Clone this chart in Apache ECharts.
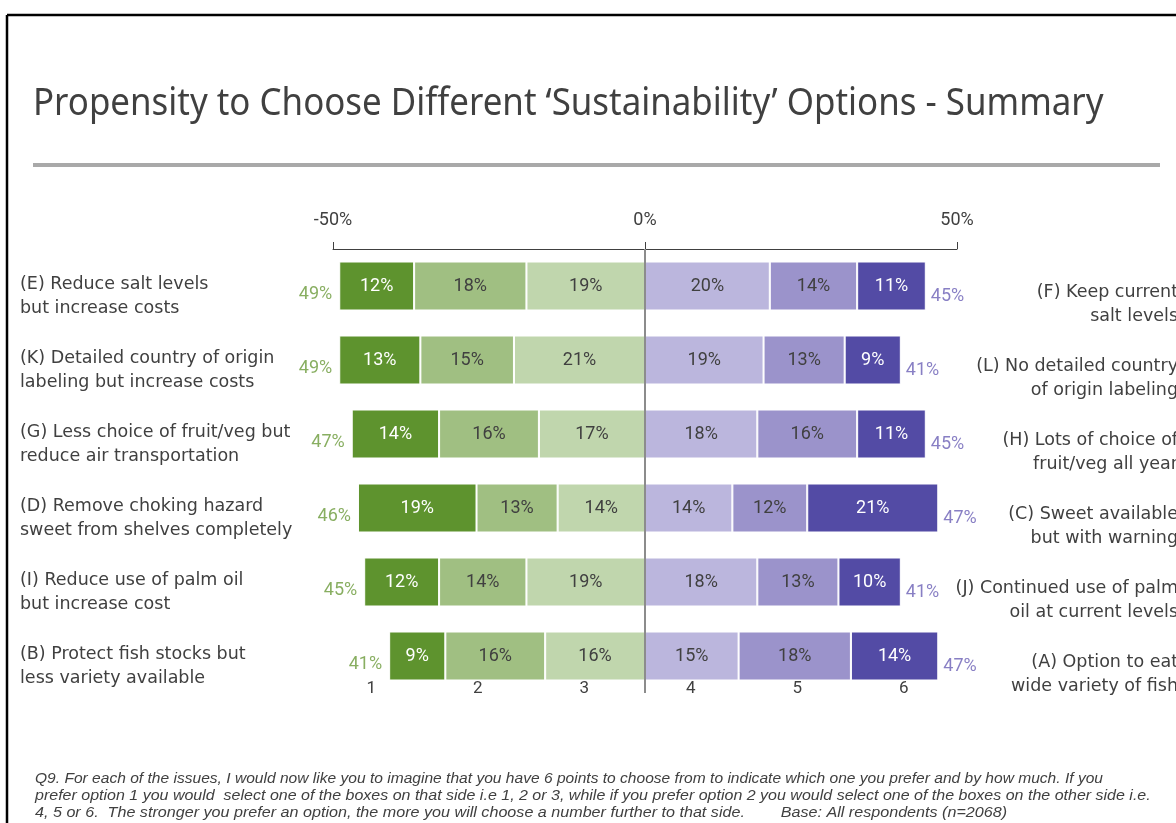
<!DOCTYPE html>
<html>
<head>
<meta charset="utf-8">
<script src="https://cdn.jsdelivr.net/npm/echarts@6/dist/echarts.min.js"></script>
<style>
  html, body { margin: 0; padding: 0; background: #ffffff; }
  #chart { width: 1176px; height: 823px; }
</style>
</head>
<body>
<div id="chart"></div>
<script>
// Statement pairs: option 1 on the left, option 2 on the right
const leftLabels = [
  '(E) Reduce salt levels\nbut increase costs',
  '(K) Detailed country of origin\nlabeling but increase costs',
  '(G) Less choice of fruit/veg but\nreduce air transportation',
  '(D) Remove choking hazard\nsweet from shelves completely',
  '(I) Reduce use of palm oil\nbut increase cost',
  '(B) Protect fish stocks but\nless variety available'
];
const rightLabels = [
  '(F) Keep current\nsalt levels',
  '(L) No detailed country\nof origin labeling',
  '(H) Lots of choice of\nfruit/veg all year',
  '(C) Sweet available\nbut with warning',
  '(J) Continued use of palm\noil at current levels',
  '(A) Option to eat\nwide variety of fish'
];

// Share of respondents (%) choosing each point of the 6-point scale
const point1 = [12, 13, 14, 19, 12, 9];
const point2 = [18, 15, 16, 13, 14, 16];
const point3 = [19, 21, 17, 14, 19, 16];
const point4 = [20, 19, 18, 14, 18, 15];
const point5 = [14, 13, 16, 12, 13, 18];
const point6 = [11, 9, 11, 21, 10, 14];

const scalePoints = ['1', '2', '3', '4', '5', '6'];
const axisMin = -50, axisMax = 50, axisStep = 50;

const footnoteLines = [
  'Q9. For each of the issues, I would now like you to imagine that you have 6 points to choose from to indicate which one you prefer and by how much. If you',
  'prefer option 1 you would  select one of the boxes on that side i.e 1, 2 or 3, while if you prefer option 2 you would select one of the boxes on the other side i.e.',
  '4, 5 or 6.  The stronger you prefer an option, the more you will choose a number further to that side.        Base: All respondents (n=2068)'
];

const leftTotals = point1.map((v, i) => v + point2[i] + point3[i]);
const rightTotals = point4.map((v, i) => v + point5[i] + point6[i]);

const TEXT = '#404040';
const NUM_FONT = 'Roboto';
const LABEL_FONT = 'DejaVu Sans';

function segment(name, values, color, textColor, negative) {
  return {
    name: name,
    type: 'bar',
    stack: 'scale',
    barWidth: 49,
    data: values.map(v => negative ? -v : v),
    itemStyle: { color: color, borderColor: '#ffffff', borderWidth: 1 },
    label: {
      show: true,
      position: 'inside',
      formatter: p => Math.abs(p.value) + '%',
      color: textColor,
      fontFamily: NUM_FONT,
      fontSize: 18
    },
    emphasis: { disabled: true },
    animation: false
  };
}

const series = [
  // left side stacks outward from zero: point 3, then 2, then 1
  segment('3', point3, '#c0d6ad', TEXT, true),
  segment('2', point2, '#a0bf82', TEXT, true),
  segment('1', point1, '#5e932e', '#ffffff', true),
  segment('4', point4, '#bbb6dd', TEXT, false),
  segment('5', point5, '#9b93cb', TEXT, false),
  segment('6', point6, '#534ba5', '#ffffff', false),
  {
    name: 'left total',
    type: 'scatter',
    symbolSize: 0,
    data: leftTotals.map((t, i) => [-t, i]),
    label: {
      show: true,
      position: 'left',
      distance: 7,
      offset: [0, 8],
      formatter: p => (-p.value[0]) + '%',
      color: '#6a9a3a',
      fontFamily: NUM_FONT,
      fontSize: 18
    },
    silent: true,
    animation: false
  },
  {
    name: 'right total',
    type: 'scatter',
    symbolSize: 0,
    data: rightTotals.map((t, i) => [t, i]),
    label: {
      show: true,
      position: 'right',
      distance: 5,
      offset: [0, 10],
      formatter: p => p.value[0] + '%',
      color: '#6a5fb5',
      fontFamily: NUM_FONT,
      fontSize: 18
    },
    silent: true,
    animation: false,
    markLine: {
      silent: true,
      symbol: 'none',
      label: { show: false },
      lineStyle: { color: '#8c8c8c', width: 2, type: 'solid' },
      data: [{ xAxis: 0 }],
      animation: false
    }
  }
];

// side labels sit a little below the bar centre; an empty leading line pushes them down
function sideLabel(gap, align, margin) {
  return {
    interval: 0,
    align: align,
    margin: margin,
    lineHeight: 24,
    formatter: v => '{g|}\n' + v,
    rich: { g: { height: gap, lineHeight: gap } },
    color: TEXT,
    fontFamily: LABEL_FONT,
    fontSize: 17.5
  };
}

const footnoteScale = [1.038, 1.067, 1.075];

const chart = echarts.init(document.getElementById('chart'), null, { renderer: 'canvas' });

chart.setOption({
  backgroundColor: '#ffffff',
  animation: false,
  grid: [
    { left: 333, width: 624, top: 249, height: 444, containLabel: false, outerBoundsMode: 'none' },
    { left: 318, width: 639, top: 670, height: 1, containLabel: false, outerBoundsMode: 'none' }
  ],
  xAxis: [
    {
      type: 'value',
      gridIndex: 0,
      position: 'top',
      min: axisMin,
      max: axisMax,
      interval: axisStep,
      splitLine: { show: false },
      axisLine: { show: true, lineStyle: { color: TEXT, width: 1 } },
      axisTick: { show: true, length: 7, lineStyle: { color: TEXT } },
      axisLabel: {
        formatter: v => v + '%',
        color: TEXT,
        fontFamily: NUM_FONT,
        fontSize: 18,
        margin: 20
      }
    },
    {
      type: 'category',
      gridIndex: 1,
      position: 'bottom',
      data: scalePoints,
      axisLine: { show: false },
      axisTick: { show: false },
      axisLabel: { color: TEXT, fontFamily: NUM_FONT, fontSize: 17, margin: 9 }
    }
  ],
  yAxis: [
    {
      type: 'category',
      gridIndex: 0,
      inverse: true,
      position: 'left',
      data: leftLabels,
      axisLine: { show: false },
      axisTick: { show: false },
      axisLabel: sideLabel(20, 'left', 313)
    },
    {
      type: 'category',
      gridIndex: 0,
      inverse: true,
      position: 'right',
      data: rightLabels,
      axisLine: { show: false },
      axisTick: { show: false },
      axisLabel: sideLabel(37, 'right', 221)
    },
    { type: 'value', gridIndex: 1, show: false }
  ],
  graphic: [
    // frame
    { type: 'line', shape: { x1: 7, y1: 15, x2: 1180, y2: 15 }, style: { stroke: '#000000', lineWidth: 2.5 }, silent: true },
    { type: 'line', shape: { x1: 7, y1: 15, x2: 7, y2: 830 }, style: { stroke: '#000000', lineWidth: 2.5 }, silent: true },
    // heading
    {
      type: 'text', left: 33, top: 85, silent: true,
      scaleX: 0.918,
      style: { text: 'Propensity to Choose Different \u2018Sustainability\u2019 Options - Summary', fill: TEXT, font: '38px "Noto Sans"' }
    },
    { type: 'rect', shape: { x: 33, y: 163, width: 1127, height: 4 }, style: { fill: '#a9a9a9' }, silent: true }
  ].concat(footnoteLines.map((line, i) => ({
    // footnote, one text per line
    type: 'text', left: 35, top: 771 + i * 17, silent: true,
    scaleX: footnoteScale[i],
    style: { text: line, fill: TEXT, font: 'italic 15px "Liberation Sans"' }
  }))),
  series: series
});
</script>
</body>
</html>
